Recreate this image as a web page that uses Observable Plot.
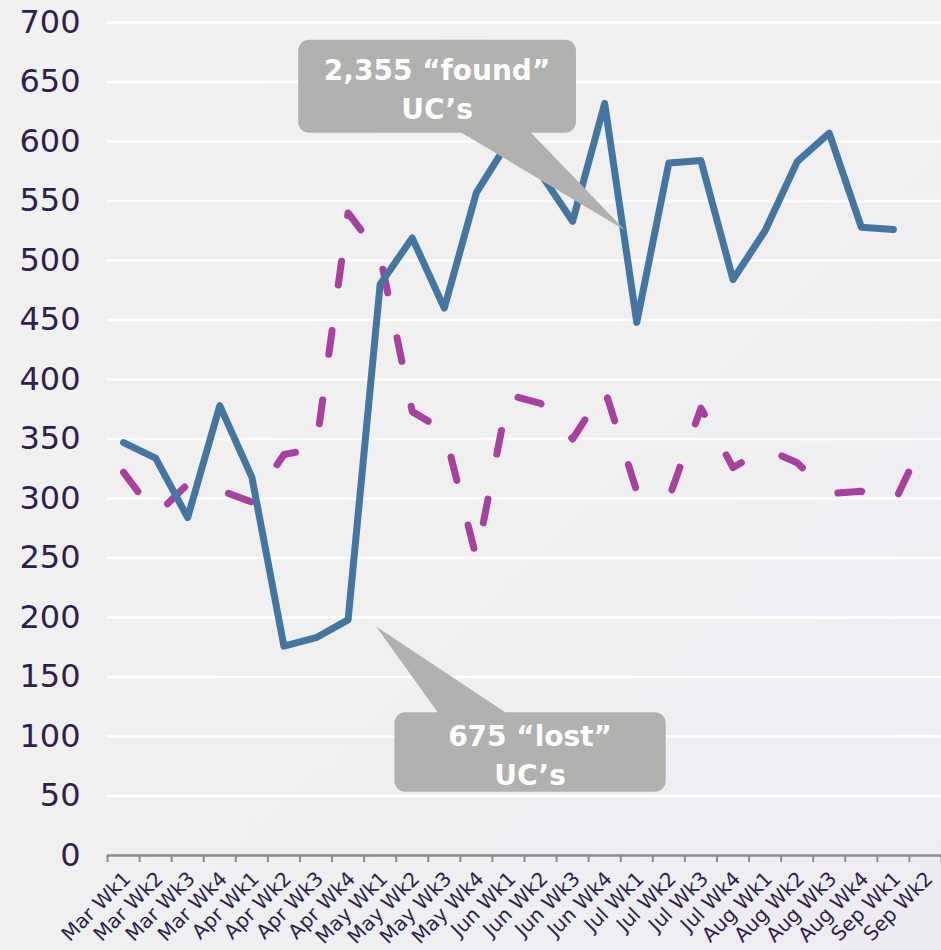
<!DOCTYPE html>
<html>
<head>
<meta charset="utf-8">
<script src="https://cdn.jsdelivr.net/npm/d3@7"></script>
<script src="https://cdn.jsdelivr.net/npm/@observablehq/plot@0.6"></script>
<style>
  html, body { margin: 0; padding: 0; }
  body {
    width: 941px; height: 950px; overflow: hidden;
    background: linear-gradient(135deg, #f1f1f1 0%, #f0f0f1 45%, #eeecf2 100%);
  }
  #chart svg { display: block; }
</style>
</head>
<body>
<div id="chart"></div>
<script>
// ---- data ----
const weeks = ["Mar Wk1","Mar Wk2","Mar Wk3","Mar Wk4","Apr Wk1","Apr Wk2","Apr Wk3","Apr Wk4",
  "May Wk1","May Wk2","May Wk3","May Wk4","Jun Wk1","Jun Wk2","Jun Wk3","Jun Wk4",
  "Jul Wk1","Jul Wk2","Jul Wk3","Jul Wk4","Aug Wk1","Aug Wk2","Aug Wk3","Aug Wk4","Sep Wk1","Sep Wk2"];
const found = [347, 334, 284, 378, 318, 176, 183, 198, 480, 519, 460, 557, 600, 573, 533, 632,
  448, 582, 584, 484, 525, 583, 607, 528, 526];
const lost = [322, 286, 312, 307, 297, 337, 342, 540, 504, 373, 357, 250, 387, 380, 350, 392,
  306, 300, 376, 326, 342, 330, 304, 306, 295, 352];
const yTicks = [0, 50, 100, 150, 200, 250, 300, 350, 400, 450, 500, 550, 600, 650, 700];
const calloutLines = [["2,355 \u201Cfound\u201D", "UC\u2019s"], ["675 \u201Clost\u201D", "UC\u2019s"]];
// callout geometry in data units (x = week index, y = value)
const calloutBoxX = [[5.46, 14.12], [8.46, 16.92]];
const calloutBoxY = [[607, 685], [53.2, 119.9]];
const calloutBaseX = [[10.5, 12.69], [9.83, 11.96]];
const calloutTip = [[15.65, 525], [7.89, 192]];

// ---- table ----
const rows = weeks.map((w, i) => ({i, week: w, found: found[i] ?? null, lost: lost[i] ?? null}));
const idx = weeks.map((_, i) => i);
const bounds = d3.range(weeks.length + 1).map(i => i - 0.5);

const TEXT = "#2e1f4d";
const FONT = "'DejaVu Sans', sans-serif";

function callouts(index, scales) {
  const {x, y} = scales;
  const g = d3.create("svg:g");
  calloutLines.forEach((lines, k) => {
    const x1 = x(calloutBoxX[k][0]), x2 = x(calloutBoxX[k][1]);
    const yt = y(calloutBoxY[k][1]), yb = y(calloutBoxY[k][0]);
    const [bx1, bx2] = calloutBaseX[k].map(x);
    const tx = x(calloutTip[k][0]), ty = y(calloutTip[k][1]);
    const tipAbove = ty < yt;
    const by = tipAbove ? yt + 1 : yb - 1;
    g.append("path")
      .attr("d", `M${bx1},${by}L${tx},${ty}L${bx2},${by}Z`)
      .attr("fill", "#b1b2b0");
    g.append("rect")
      .attr("x", x1).attr("y", yt)
      .attr("width", x2 - x1).attr("height", yb - yt)
      .attr("rx", 11).attr("ry", 11)
      .attr("fill", "#b1b2b0");
    const h = yb - yt;
    const cx = (x1 + x2) / 2;
    lines.forEach((t, j) => {
      g.append("text")
        .attr("x", cx)
        .attr("y", yt + (h - 77) / 2 + 32 + j * 39)
        .attr("text-anchor", "middle")
        .attr("fill", "white")
        .attr("font-family", FONT)
        .attr("font-weight", "bold")
        .attr("font-size", 28)
        .text(t);
    });
  });
  return g.node();
}

const chart = Plot.plot({
  width: 941,
  height: 950,
  marginLeft: 107,
  marginRight: 0,
  marginTop: 22,
  marginBottom: 95,
  style: {background: "transparent", fontFamily: FONT, color: TEXT, overflow: "visible"},
  x: {type: "linear", domain: [-0.5, weeks.length - 0.5]},
  y: {domain: [0, 700]},
  marks: [
    Plot.gridY(yTicks.filter(d => d > 0), {stroke: "#ffffff", strokeOpacity: 1, strokeWidth: 2.5}),
    Plot.axisY({ticks: yTicks, tickSize: 0, tickPadding: 27, fontSize: 32, label: null, fill: TEXT}),
    Plot.ruleY([0], {stroke: "#8d8d8d", strokeWidth: 2.5}),
    Plot.axisX({ticks: bounds, tickSize: 7, tickFormat: () => "", stroke: "#8d8d8d", strokeWidth: 2, label: null}),
    Plot.axisX({ticks: idx, tickSize: 0, tickPadding: 20, dx: 4, tickFormat: i => weeks[i], tickRotate: -45,
      fontSize: 20, label: null, fill: TEXT}),
    Plot.line(rows.filter(d => d.lost != null), {x: "i", y: "lost", stroke: "#a8419e", strokeWidth: 7,
      strokeDasharray: "24,46", strokeLinecap: "round", strokeLinejoin: "round"}),
    Plot.line(rows.filter(d => d.found != null), {x: "i", y: "found", stroke: "#45769f", strokeWidth: 7,
      strokeLinecap: "round", strokeLinejoin: "round"}),
    callouts
  ]
});
document.getElementById("chart").append(chart);
</script>
</body>
</html>
